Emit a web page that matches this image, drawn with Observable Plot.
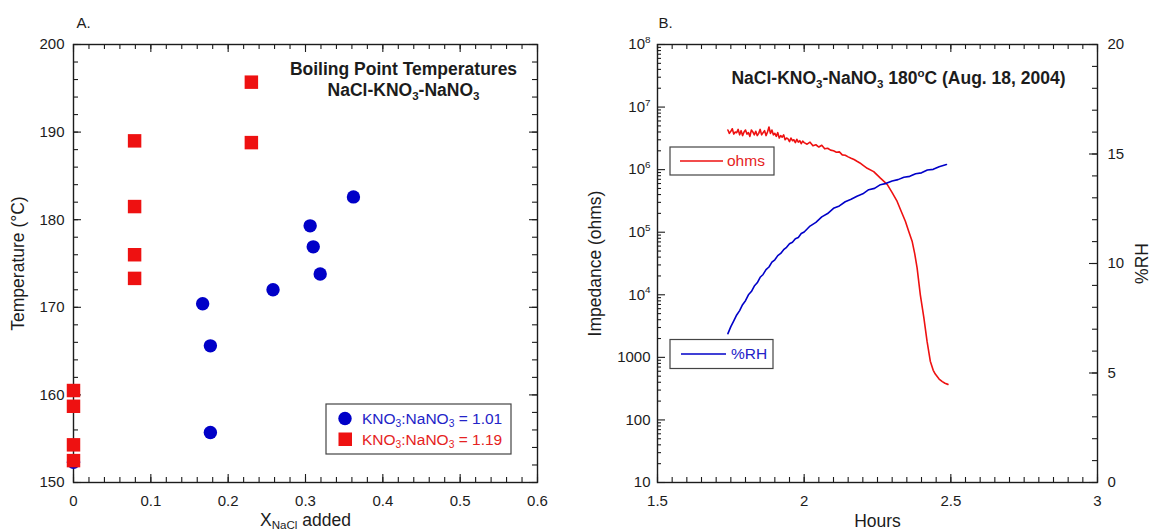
<!DOCTYPE html>
<html><head><meta charset="utf-8">
<script src="https://cdn.jsdelivr.net/npm/d3@7"></script>
<script src="https://cdn.jsdelivr.net/npm/@observablehq/plot@0.6"></script>
<style>
body{margin:0;background:#fff;}
#wrap{position:relative;width:1151px;height:531px;overflow:hidden;background:#fff;}
#wrap svg{position:absolute;top:0;background:transparent;}
</style></head><body><div id="wrap"></div>
<script>
// ---------------- Panel A data ----------------
const seriesA = ["KNO_{3}:NaNO_{3} = 1.01", "KNO_{3}:NaNO_{3} = 1.19"];
const xNaCl_101 = [0, 0.167, 0.177, 0.177, 0.258, 0.306, 0.310, 0.319, 0.362];
const temp_101  = [152.3, 170.4, 165.6, 155.7, 172.0, 179.3, 176.9, 173.8, 182.6];
const xNaCl_119 = [0, 0, 0, 0, 0.079, 0.079, 0.079, 0.079, 0.230, 0.230];
const temp_119  = [160.5, 158.7, 154.3, 152.5, 189.0, 181.5, 176.0, 173.3, 195.7, 188.8];
const xTicksA = [0, 0.1, 0.2, 0.3, 0.4, 0.5, 0.6];
const xTickLabelsA = ["0", "0.1", "0.2", "0.3", "0.4", "0.5", "0.6"];
const yTicksA = [150, 160, 170, 180, 190, 200];
const yTickLabelsA = ["150", "160", "170", "180", "190", "200"];
const titleA = ["Boiling Point Temperatures", "NaCl-KNO_{3}-NaNO_{3}"];

// ---------------- Panel B data ----------------
const hoursOhms = [1.740,1.745,1.750,1.755,1.760,1.765,1.770,1.775,1.780,1.785,1.790,1.795,1.800,1.805,1.810,1.815,1.820,1.825,1.830,1.835,1.840,1.845,1.850,1.855,1.860,1.865,1.870,1.875,1.880,1.885,1.890,1.895,1.900,1.905,1.910,1.915,1.920,1.925,1.930,1.935,1.940,1.945,1.950,1.955,1.960,1.965,1.970,1.975,1.980,1.985,1.990,1.995,2.000,2.010,2.020,2.030,2.040,2.050,2.060,2.070,2.080,2.090,2.100,2.110,2.120,2.130,2.140,2.150,2.160,2.170,2.180,2.190,2.200,2.215,2.237,2.260,2.283,2.300,2.317,2.330,2.345,2.356,2.368,2.377,2.385,2.396,2.408,2.419,2.430,2.440,2.447,2.460,2.471,2.480,2.490];
const ohms = [4.3e6,3.8e6,4.1e6,4.5e6,3.7e6,4.0e6,3.9e6,4.4e6,3.6e6,4.2e6,3.5e6,4.0e6,4.3e6,3.7e6,3.9e6,3.4e6,4.3e6,4.0e6,3.6e6,4.1e6,3.5e6,3.8e6,4.4e6,3.6e6,3.9e6,4.2e6,3.5e6,4.0e6,4.8e6,3.8e6,4.3e6,3.6e6,3.8e6,3.4e6,3.9e6,3.2e6,3.5e6,3.3e6,3.6e6,3.0e6,3.2e6,3.1e6,2.8e6,3.2e6,2.9e6,3.0e6,2.7e6,3.05e6,2.75e6,2.9e6,2.6e6,2.85e6,2.7e6,2.55e6,2.75e6,2.4e6,2.5e6,2.3e6,2.45e6,2.15e6,2.2e6,2.05e6,2.0e6,1.9e6,1.92e6,1.72e6,1.7e6,1.6e6,1.52e6,1.45e6,1.36e6,1.28e6,1.18e6,1.05e6,9.3e5,7.3e5,5.8e5,4.3e5,3.1e5,2.2e5,1.5e5,1.05e5,7.2e4,4.5e4,2.7e4,1.0e4,4300,1800,870,620,540,450,410,385,370];
const hoursRH = [1.740,1.750,1.760,1.770,1.780,1.790,1.800,1.810,1.820,1.830,1.840,1.850,1.860,1.870,1.880,1.890,1.900,1.910,1.920,1.930,1.940,1.950,1.960,1.970,1.980,1.990,2.000,2.020,2.040,2.060,2.080,2.100,2.120,2.140,2.160,2.180,2.200,2.220,2.240,2.260,2.280,2.300,2.320,2.340,2.360,2.380,2.400,2.420,2.440,2.460,2.485];
const rh = [6.80,7.12,7.38,7.65,7.85,8.12,8.30,8.57,8.72,8.97,9.12,9.37,9.50,9.72,9.84,10.06,10.17,10.36,10.46,10.63,10.74,10.90,10.97,11.13,11.19,11.37,11.44,11.71,11.88,12.13,12.28,12.52,12.63,12.82,12.93,13.07,13.18,13.37,13.43,13.60,13.66,13.77,13.83,13.94,13.98,14.10,14.14,14.27,14.30,14.42,14.52];
const seriesB = ["ohms", "%RH"];
const titleB = "NaCl-KNO_{3}-NaNO_{3} 180^{o}C (Aug. 18, 2004)";
const xTicksB = [1.5, 2, 2.5, 3];
const xTickLabelsB = ["1.5", "2", "2.5", "3"];
const yTicksB = [10, 100, 1000, 1e4, 1e5, 1e6, 1e7, 1e8];
const yTickLabelsB = ["10", "100", "1000", "10^{4}", "10^{5}", "10^{6}", "10^{7}", "10^{8}"];
const rhTicks = [0, 5, 10, 15, 20];
const rhTickLabels = ["0", "5", "10", "15", "20"];

// ---------------- styling ----------------
const FONT = '"Liberation Sans", Arial, Helvetica, sans-serif';
const INK = "#1c1c1c";
const BLUE = "#0000c8";
const RED = "#ee1111";
const H = 531, MT = 44, MB = 49, IH = H - MT - MB;

function richify(svg) {
  d3.select(svg).selectAll("text").each(function () {
    const t = this.textContent;
    if (!/[_^]\{/.test(t)) return;
    const fs = parseFloat(getComputedStyle(this).fontSize) || 15;
    const sel = d3.select(this);
    sel.text(null);
    const re = /([_^])\{([^}]*)\}/g;
    let last = 0, m, shift = 0;
    const add = (s, off, small) => {
      const sp = sel.append("tspan").text(s);
      const dy = off - shift;
      if (dy) sp.attr("dy", dy);
      shift = off;
      if (small) sp.attr("font-size", (fs * 0.66).toFixed(2));
    };
    while ((m = re.exec(t))) {
      if (m.index > last) add(t.slice(last, m.index), 0, false);
      add(m[2], m[1] === "_" ? fs * 0.2 : -fs * 0.42, true);
      last = re.lastIndex;
    }
    if (last < t.length) add(t.slice(last), 0, false);
  });
}

// inward tick helpers (drawn through the plot's scales)
const tickBottom = (v, len) => Plot.tickX(v, {x: d => d, insetTop: IH - len, stroke: INK, strokeWidth: 1.1});
const tickTop = (v, len) => Plot.tickX(v, {x: d => d, insetBottom: IH - len, stroke: INK, strokeWidth: 1.1});
const tickLeft = (v, len, IW) => Plot.tickY(v, {y: d => d, insetRight: IW - len, stroke: INK, strokeWidth: 1.1});
const tickRight = (v, len, IW) => Plot.tickY(v, {y: d => d, insetLeft: IW - len, stroke: INK, strokeWidth: 1.1});
const T = {textAnchor: "middle", lineAnchor: "middle", fill: INK};

const wrap = document.getElementById("wrap");
const baseStyle = {fontFamily: FONT, fontSize: "15px", color: INK, background: "transparent", overflow: "visible"};

// ---------------- Panel A ----------------
{
  const W = 575, ML = 73, MR = 38, IW = W - ML - MR;
  const xMinor = d3.range(0, 0.6001, 0.02).map(d => +d.toFixed(2));
  const yMinor = d3.range(150, 200.01, 2);
  const blue = xNaCl_101.map((x, i) => ({x, t: temp_101[i]}));
  const red = xNaCl_119.map((x, i) => ({x, t: temp_119[i]}));
  const svg = Plot.plot({
    width: W, height: H, marginLeft: ML, marginRight: MR, marginTop: MT, marginBottom: MB,
    style: baseStyle,
    x: {domain: [0, 0.6]}, y: {domain: [150, 200]},
    marks: [
      tickBottom(xMinor, 5), tickTop(xMinor, 5), tickBottom(xTicksA, 8), tickTop(xTicksA, 8),
      tickLeft(yMinor, 5, IW), tickRight(yMinor, 5, IW), tickLeft(yTicksA, 8, IW), tickRight(yTicksA, 8, IW),
      Plot.frame({stroke: INK, strokeWidth: 1.4}),
      Plot.axisX({ticks: xTicksA, tickSize: 0, tickPadding: 12.5, label: null, tickFormat: d => xTickLabelsA[xTicksA.indexOf(d)], fill: INK}),
      Plot.axisY({ticks: yTicksA, tickSize: 0, tickPadding: 9, label: null, tickFormat: d => yTickLabelsA[yTicksA.indexOf(d)], fill: INK}),
      Plot.dot(blue, {x: "x", y: "t", r: 6.7, fill: BLUE, symbol: "circle"}),
      Plot.dot(red, {x: "x", y: "t", r: 7.6, fill: RED, symbol: "square"}),
      Plot.text([titleA[0]], {...T, text: d => d, frameAnchor: "top", dx: 98, dy: 25, fontWeight: "bold", fontSize: 17.5}),
      Plot.text([titleA[1]], {...T, text: d => d, frameAnchor: "top", dx: 98, dy: 46, fontWeight: "bold", fontSize: 17.5}),
      Plot.text(["A."], {...T, textAnchor: "start", text: d => d, frameAnchor: "top-left", dx: 3, dy: -21, fontSize: 15}),
      Plot.text(["Temperature (°C)"], {...T, text: d => d, frameAnchor: "left", rotate: -90, dx: -55, fontSize: 17.5}),
      Plot.text(["X_{NaCl} added"], {...T, text: d => d, frameAnchor: "bottom", dy: 37.5, fontSize: 17.5})
    ]
  });
  svg.style.left = "0px";
  wrap.appendChild(svg);
  richify(svg);
}

// ---------------- Panel B ----------------
{
  const LEFT = 575, W = 576, ML = 82, MR = 54, IW = W - ML - MR;
  const xMinor = d3.range(1.5, 3.0001, 0.05).map(d => +d.toFixed(2));
  const logMinor = d3.range(1, 8).flatMap(e => d3.range(2, 10).map(k => k * 10 ** e));
  const rhMinor = d3.range(0, 21, 1);
  const red = hoursOhms.map((h, i) => ({h, v: ohms[i]}));
  const blue = hoursRH.map((h, i) => ({h, v: rh[i]}));

  const svg1 = Plot.plot({
    width: W, height: H, marginLeft: ML, marginRight: MR, marginTop: MT, marginBottom: MB,
    style: baseStyle,
    x: {domain: [1.5, 3]}, y: {type: "log", domain: [10, 1e8]},
    marks: [
      tickBottom(xMinor, 5), tickTop(xMinor, 5), tickBottom(xTicksB, 8), tickTop(xTicksB, 8),
      tickLeft(logMinor, 4, IW), tickLeft(yTicksB, 8, IW),
      Plot.frame({stroke: INK, strokeWidth: 1.4}),
      Plot.axisX({ticks: xTicksB, tickSize: 0, tickPadding: 12.5, label: null, tickFormat: d => xTickLabelsB[xTicksB.indexOf(d)], fill: INK}),
      Plot.axisY({ticks: yTicksB, tickSize: 0, tickPadding: 7, label: null, tickFormat: d => yTickLabelsB[yTicksB.indexOf(d)], fill: INK}),
      Plot.line(red, {x: "h", y: "v", stroke: RED, strokeWidth: 1.6}),
      Plot.text([titleB], {...T, text: d => d, frameAnchor: "top", dx: 21, dy: 34, fontWeight: "bold", fontSize: 17.5}),
      Plot.text(["B."], {...T, textAnchor: "start", text: d => d, frameAnchor: "top-left", dx: 1, dy: -21, fontSize: 15}),
      Plot.text(["Impedance (ohms)"], {...T, text: d => d, frameAnchor: "left", rotate: -90, dx: -62, fontSize: 17.5}),
      Plot.text(["Hours"], {...T, text: d => d, frameAnchor: "bottom", dy: 39, fontSize: 17.5})
    ]
  });
  svg1.style.left = LEFT + "px";
  wrap.appendChild(svg1);
  richify(svg1);

  const svg2 = Plot.plot({
    width: W, height: H, marginLeft: ML, marginRight: MR, marginTop: MT, marginBottom: MB,
    style: baseStyle,
    x: {domain: [1.5, 3], axis: null}, y: {domain: [0, 20]},
    marks: [
      tickRight(rhMinor, 5, IW), tickRight(rhTicks, 8, IW),
      Plot.axisY({anchor: "right", ticks: rhTicks, tickSize: 0, tickPadding: 10, label: null, tickFormat: d => rhTickLabels[rhTicks.indexOf(d)], fill: INK}),
      Plot.line(blue, {x: "h", y: "v", stroke: BLUE, strokeWidth: 1.6}),
      Plot.text(["%RH"], {...T, text: d => d, frameAnchor: "right", rotate: -90, dx: 45, fontSize: 17.5})
    ]
  });
  svg2.style.left = LEFT + "px";
  wrap.appendChild(svg2);
  richify(svg2);
}

// ---------------- Legends (overlay) ----------------
{
  const lg = d3.select(wrap).append("svg")
    .attr("width", 1151).attr("height", 531)
    .style("left", "0px").style("pointer-events", "none")
    .style("font-family", FONT).style("font-size", "15.5px");
  const box = (x, y, w, h) => lg.append("rect").attr("x", x).attr("y", y).attr("width", w).attr("height", h)
    .attr("fill", "#fff").attr("stroke", "#444").attr("stroke-width", 1.2);
  const label = (x, y, s, c) => lg.append("text").attr("x", x).attr("y", y).attr("dy", "0.35em").attr("fill", c).text(s);

  // Panel A legend
  box(326, 404, 185, 50);
  lg.append("circle").attr("cx", 345).attr("cy", 418.5).attr("r", 6.7).attr("fill", BLUE);
  label(362, 418.5, seriesA[0], "#2323c8");
  lg.append("rect").attr("x", 338.5).attr("y", 432.5).attr("width", 13.5).attr("height", 13.5).attr("fill", RED);
  label(362, 439.5, seriesA[1], "#e52222");

  // Panel B legends
  box(670, 147, 104, 28);
  lg.append("line").attr("x1", 680).attr("x2", 723).attr("y1", 161).attr("y2", 161).attr("stroke", RED).attr("stroke-width", 1.5);
  label(727, 161, seriesB[0], "#e52222");
  box(670, 339.5, 103, 29);
  lg.append("line").attr("x1", 681).attr("x2", 726).attr("y1", 354).attr("y2", 354).attr("stroke", BLUE).attr("stroke-width", 1.5);
  label(731, 354, seriesB[1], "#2323c8");
  richify(lg.node());
}
</script></body></html>
